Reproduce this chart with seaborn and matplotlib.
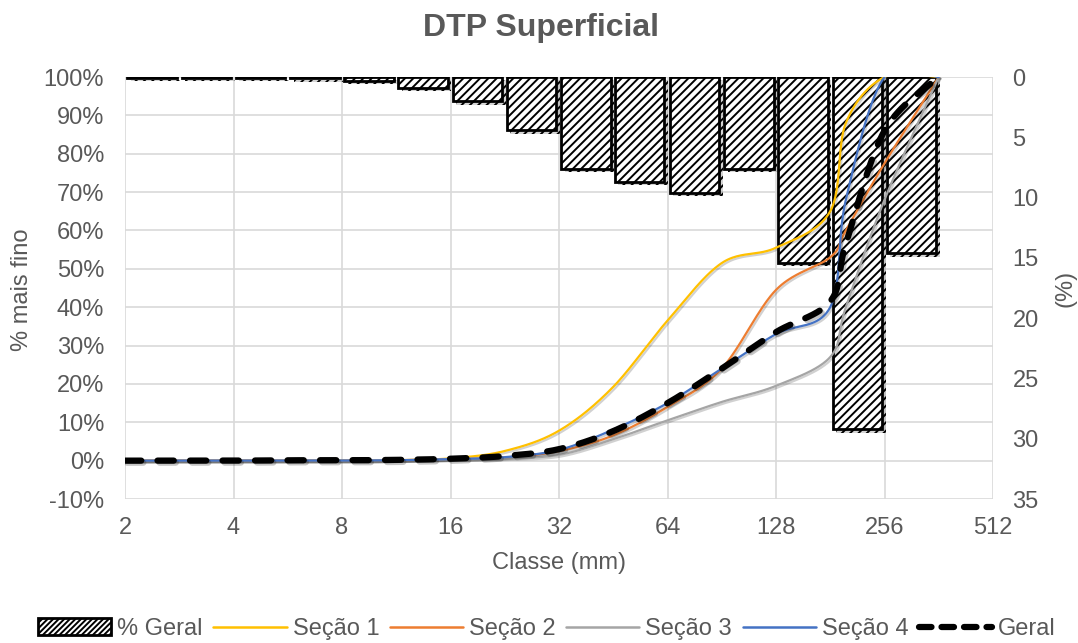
import numpy as np
import pandas as pd
import matplotlib
matplotlib.use("Agg")
import matplotlib.pyplot as plt
import matplotlib.patheffects as pe
from matplotlib.patches import Patch
from matplotlib.lines import Line2D
from matplotlib.ticker import NullLocator, FixedLocator, FixedFormatter
import seaborn as sns

# ---------------- data ----------------
class_lo = [2, 2.83, 4, 5.66, 8, 11.3, 16, 22.6, 32, 45, 64, 90.5, 128, 181, 256]
class_hi = [2.83, 4, 5.66, 8, 11.3, 16, 22.6, 32, 45, 64, 90.5, 128, 181, 256, 362]
pct_geral = [0.05, 0.05, 0.05, 0.1, 0.3, 0.9, 2.0, 4.4, 7.6, 8.7, 9.6, 7.6, 15.4, 29.2, 14.6]

sieve_mm = [2, 2.83, 4, 5.66, 8, 11.3, 16, 22.6, 32, 45, 64, 90.5, 128, 181, 200, 256, 362]
secao1 = [0, 0, 0, 0, 0, 0.1, 0.6, 2.5, 7.8, 19.0, 36.5, 51.5, 55.5, 65.0, 88.0, 100, 100]
secao2 = [0, 0, 0, 0, 0, 0.1, 0.4, 0.8, 2.5, 6.5, 14.0, 24.0, 44.5, 53.0, 60.0, 77.5, 100]
secao3 = [0, 0, 0, 0, 0, 0.1, 0.3, 0.6, 1.5, 5.5, 10.5, 15.3, 19.5, 27.0, 40.0, 68.0, 100]
secao4 = [0, 0, 0, 0, 0, 0.1, 0.4, 0.9, 2.8, 8.0, 15.0, 24.0, 33.0, 40.0, 68.0, 100, 100]
geral = [0, 0, 0, 0.1, 0.1, 0.2, 0.5, 1.2, 3.0, 7.6, 15.0, 24.0, 33.5, 41.5, 56.5, 86.0, 100]

x_ticks = [2, 4, 8, 16, 32, 64, 128, 256, 512]
x_tick_labels = ["2", "4", "8", "16", "32", "64", "128", "256", "512"]
y_ticks = [-10, 0, 10, 20, 30, 40, 50, 60, 70, 80, 90, 100]
y2_ticks = [0, 5, 10, 15, 20, 25, 30, 35]

series_names = ["Seção 1", "Seção 2", "Seção 3", "Seção 4", "Geral"]
series_vals = [secao1, secao2, secao3, secao4, geral]
series_colors = ["#FFC000", "#ED7D31", "#A5A5A5", "#4472C4", "#000000"]

TXT = "#595959"
GRID = "#D9D9D9"


def smooth(xs, ys, n=40):
    """Excel-like smoothed line (Catmull-Rom Bezier) in log2-x space."""
    u = np.log2(np.asarray(xs, float))
    y = np.asarray(ys, float)
    P = np.column_stack([u, y])
    P = np.vstack([P[0], P, P[-1]])
    out = []
    t = np.linspace(0, 1, n, endpoint=False)[:, None]
    for i in range(1, len(P) - 2):
        p0, p1, p2, p3 = P[i - 1], P[i], P[i + 1], P[i + 2]
        c1 = p1 + (p2 - p0) / 6.0
        c2 = p2 - (p3 - p1) / 6.0
        seg = (1 - t) ** 3 * p1 + 3 * (1 - t) ** 2 * t * c1 + 3 * (1 - t) * t ** 2 * c2 + t ** 3 * p2
        out.append(seg)
    out.append(P[-2][None, :])
    S = np.vstack(out)
    return 2.0 ** S[:, 0], S[:, 1]


sns.set_theme(style="white")
plt.rcParams["font.family"] = ["Liberation Sans", "DejaVu Sans"]
plt.rcParams["hatch.linewidth"] = 1.4

fig = plt.figure(figsize=(10.78, 6.43), dpi=100)
L, R, T, B = 125 / 1078, 993 / 1078, 1 - 77 / 643, 1 - 499 / 643
ax = fig.add_axes([L, B, R - L, T - B])
ax.set_xscale("log", base=2)
ax.set_xlim(2, 512)
ax.set_ylim(-10, 100)
ax.xaxis.set_major_locator(FixedLocator(x_ticks))
ax.xaxis.set_major_formatter(FixedFormatter(x_tick_labels))
ax.xaxis.set_minor_locator(NullLocator())
ax.set_yticks(y_ticks)
ax.set_yticklabels([f"{v}%" for v in y_ticks])
ax.grid(True, color=GRID, linewidth=1.2)
for s in ax.spines.values():
    s.set_visible(False)
ax.tick_params(axis="both", length=0, labelsize=17, colors=TXT)
ax.tick_params(axis="y", pad=15)
ax.tick_params(axis="x", pad=13)
ax.set_facecolor("white")

# secondary axis with bars
ax2 = ax.twinx()
ax2.set_ylim(35, 0)
ax2.set_yticks(y2_ticks)
ax2.set_yticklabels([str(v) for v in y2_ticks])
ax2.tick_params(axis="y", length=0, labelsize=17, colors=TXT, pad=14)
ax2.grid(False)
for s in ax2.spines.values():
    s.set_visible(False)
lo = np.asarray(class_lo, float)
left = lo * 2 ** 0.022
right = lo * 2 ** 0.478
ax2.bar(left, pct_geral, width=right - left, bottom=0, align="edge",
        color="white", edgecolor="black", hatch="////", linewidth=2.0,
        path_effects=[pe.SimplePatchShadow(offset=(2.5, -2.5), shadow_rgbFace="#888888", alpha=0.35), pe.Normal()])

# top axes for the lines
ax3 = fig.add_axes(ax.get_position(), sharex=ax, sharey=ax)
ax3.axis("off")

rows = []
for name, vals in zip(series_names, series_vals):
    sx, sy = smooth(sieve_mm, vals)
    for a, b in zip(sx, sy):
        rows.append((name, a, b))
df = pd.DataFrame(rows, columns=["serie", "x", "y"])

for name, col in zip(series_names, series_colors):
    d = df[df["serie"] == name]
    if name == "Geral":
        sns.lineplot(data=d, x="x", y="y", ax=ax3, sort=False, estimator=None,
                     color=col, linewidth=4.5, linestyle=(0, (2.6, 2.6)),
                     dash_capstyle="round",
                     path_effects=[pe.SimpleLineShadow(offset=(1.5, -1.5), alpha=0.25), pe.Normal()])
    else:
        sns.lineplot(data=d, x="x", y="y", ax=ax3, sort=False, estimator=None,
                     color=col, linewidth=1.6,
                     path_effects=[pe.SimpleLineShadow(offset=(1.2, -1.2), alpha=0.2), pe.Normal()])
ax3.set_xlim(2, 512)
ax3.set_ylim(-10, 100)

# labels
fig.text(541 / 1078, 1 - 28 / 643, "DTP Superficial", ha="center", va="center",
         fontsize=23, fontweight="bold", color=TXT)
fig.text(22 / 1078, 1 - 290 / 643, "% mais fino", rotation=90, ha="center", va="center",
         fontsize=17, color=TXT)
fig.text(1066 / 1078, 1 - 288 / 643, "(%)", rotation=90, ha="center", va="center",
         fontsize=17, color=TXT)
fig.text(559 / 1078, 1 - 563 / 643, "Classe (mm)", ha="center", va="center",
         fontsize=17, color=TXT)

# legend
handles = [Patch(facecolor="white", edgecolor="black", hatch="//////", linewidth=2.0)]
for name, col in zip(series_names, series_colors):
    if name == "Geral":
        handles.append(Line2D([], [], color=col, linewidth=4.5, linestyle=(0, (2.0, 1.6)),
                              dash_capstyle="round"))
    else:
        handles.append(Line2D([], [], color=col, linewidth=1.8))
labels = ["% Geral"] + series_names
fig.legend(handles, labels, loc="center", bbox_to_anchor=(547 / 1078, 1 - 629 / 643),
           ncol=6, frameon=False, fontsize=17, handlelength=3.1, handletextpad=0.25,
           columnspacing=0.45, labelcolor=TXT, borderaxespad=0)

fig.savefig("out.png", dpi=100, facecolor="white")
